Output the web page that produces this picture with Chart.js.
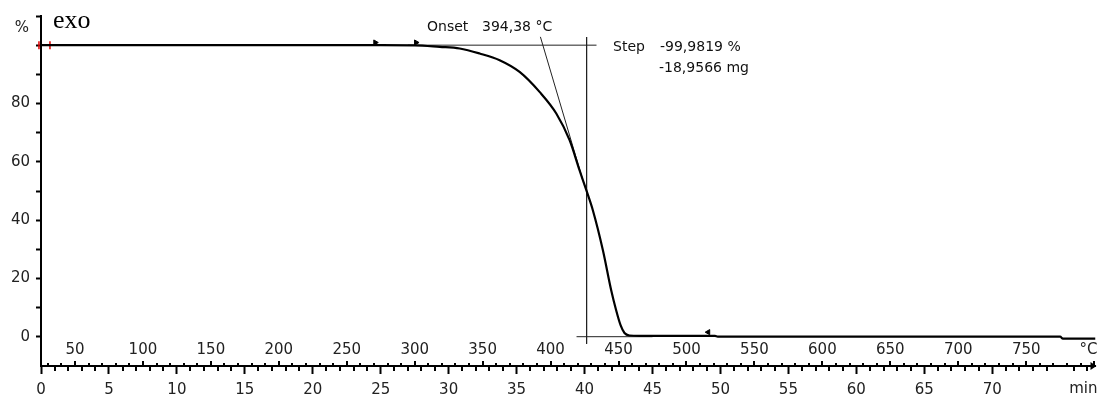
<!DOCTYPE html>
<html>
<head>
<meta charset="utf-8">
<script src="https://cdn.jsdelivr.net/npm/chart.js@4.4.1/dist/chart.umd.min.js"></script>
<style>
  html, body { margin: 0; padding: 0; background: #ffffff; }
  #wrap { width: 1101px; height: 401px; }
</style>
</head>
<body>
<div id="wrap"><canvas id="c" width="1101" height="401"></canvas></div>
<script>
// ---- data ----
const timeMin = [0, 10, 20, 25, 27.5, 29.34, 30.81, 32.28, 33.75, 35.22, 36.69, 37.92, 38.90, 39.63, 40.13, 40.61, 41.35, 41.96, 42.32, 42.65, 42.94, 43.31, 44.04, 49.6, 49.8, 60, 75.0, 75.2, 77.6];
const massPct = [100, 100, 100, 100, 99.95, 99.42, 98.87, 97.15, 94.86, 90.84, 83.98, 76.58, 67.42, 57.13, 50.27, 43.42, 29.70, 15.98, 9.2, 4.0, 1.3, 0.45, 0.3, 0.3, 0.05, 0.05, 0.05, -0.6, -0.6];

const baseTopT = [27, 40.88];     const baseTopV = [100, 100];
const tangentT = [36.75, 39.85];  const tangentV = [102.85, 54.1];
const stepLineT = [40.15, 40.15]; const stepLineV = [102.8, -2.4];
const baseBotT = [39.41, 45];     const baseBotV = [0.05, 0.05];

const markerT = [24.6, 27.6];     const markerV = [100.9, 100.9];
const marker2T = [49.1];          const marker2V = [1.6];
const redT = [-0.15, 0.66];       const redV = [100, 100];

const timeTicks = [0, 5, 10, 15, 20, 25, 30, 35, 40, 45, 50, 55, 60, 65, 70];
const tempTicks = [50, 100, 150, 200, 250, 300, 350, 400, 450, 500, 550, 600, 650, 700, 750];
const yTicks = [0, 10, 20, 30, 40, 50, 60, 70, 80, 90, 100, 110];
const yTickLabels = [0, 20, 40, 60, 80];

const startTemp = 25, heatRate = 10; // °C, °C/min
const onsetLabel = 'Onset', onsetValue = '394,38 °C';
const stepLabel = 'Step', stepValue1 = '-99,9819 %', stepValue2 = '-18,9566 mg';

const pts = (xs, ys) => xs.map((x, i) => ({ x: x, y: ys[i] }));
const FONT = '"DejaVu Sans", Verdana, sans-serif';

const overlay = {
  id: 'overlay',
  afterDraw(chart) {
    const ctx = chart.ctx;
    const xs = chart.scales.x, ys = chart.scales.y;
    const ca = chart.chartArea;
    const b = ca.bottom;
    ctx.save();
    ctx.strokeStyle = '#000';
    ctx.lineWidth = 2;
    // minor time ticks (every minute)
    for (let t = 1; t < xs.max; t++) {
      if (t % 5 === 0) continue;
      const x = Math.round(xs.getPixelForValue(t));
      ctx.beginPath(); ctx.moveTo(x, b - 1); ctx.lineTo(x, b + 5); ctx.stroke();
    }
    // temperature ticks
    for (let T = 30; T <= startTemp + heatRate * xs.max; T += 10) {
      const x = Math.round(xs.getPixelForValue((T - startTemp) / heatRate));
      const len = (T % 50 === 0) ? 5 : 3;
      ctx.beginPath(); ctx.moveTo(x, b + 1); ctx.lineTo(x, b - len); ctx.stroke();
    }
    // arrow at the right end
    ctx.fillStyle = '#000';
    ctx.beginPath();
    ctx.moveTo(ca.right + 1, b);
    ctx.lineTo(ca.right - 5, b - 4);
    ctx.lineTo(ca.right - 5, b + 4);
    ctx.closePath(); ctx.fill();

    // temperature labels
    ctx.font = '15px ' + FONT;
    ctx.fillStyle = '#222';
    ctx.textAlign = 'center';
    ctx.textBaseline = 'middle';
    tempTicks.forEach(T => {
      const x = xs.getPixelForValue((T - startTemp) / heatRate);
      ctx.fillText(String(T), x, b - 16);
    });
    ctx.textAlign = 'right';
    ctx.fillText('°C', ca.right + 2, b - 16);
    ctx.fillText('min', ca.right + 2, b + 23);
    // unit on y axis
    ctx.textAlign = 'center';
    ctx.fillText('%', 22, ys.getPixelForValue(106));

    // exo
    ctx.font = '26px "Liberation Serif", "Times New Roman", serif';
    ctx.fillStyle = '#000';
    ctx.textAlign = 'left';
    ctx.textBaseline = 'alphabetic';
    ctx.fillText('exo', 53, 28);

    // evaluation texts
    ctx.font = '14px ' + FONT;
    ctx.fillStyle = '#111';
    ctx.textBaseline = 'middle';
    ctx.textAlign = 'left';
    ctx.fillText(onsetLabel, 427, 27);
    ctx.fillText(onsetValue, 482, 27);
    ctx.fillText(stepLabel, 613, 47);
    ctx.fillText(stepValue1, 660, 47);
    ctx.fillText(stepValue2, 659, 68);
    ctx.restore();
  }
};

const thin = { borderColor: '#222', borderWidth: 1, pointRadius: 0, showLine: true, fill: false };

new Chart(document.getElementById('c'), {
  type: 'scatter',
  data: {
    datasets: [
      { data: pts(timeMin, massPct), borderColor: '#000', borderWidth: 2.2, pointRadius: 0, showLine: true, cubicInterpolationMode: 'monotone', fill: false },
      Object.assign({ data: pts(baseTopT, baseTopV) }, thin),
      Object.assign({ data: pts(tangentT, tangentV) }, thin),
      Object.assign({ data: pts(stepLineT, stepLineV) }, thin),
      Object.assign({ data: pts(baseBotT, baseBotV) }, thin),
      { data: pts(markerT, markerV), pointStyle: 'triangle', rotation: 90, pointRadius: 3, backgroundColor: '#000', borderColor: '#000', borderWidth: 1, showLine: false },
      { data: pts(marker2T, marker2V), pointStyle: 'triangle', rotation: -90, pointRadius: 3, backgroundColor: '#000', borderColor: '#000', borderWidth: 1, showLine: false },
      { data: pts(redT, redV), pointStyle: 'line', rotation: 90, pointRadius: 4, borderColor: '#e00000', borderWidth: 1.5, showLine: false, clip: false }
    ]
  },
  options: {
    responsive: false,
    animation: false,
    devicePixelRatio: 1,
    layout: { padding: { top: 16, right: 4, left: 0, bottom: 0 } },
    plugins: { legend: { display: false }, tooltip: { enabled: false } },
    scales: {
      x: {
        type: 'linear', min: 0, max: 77.6,
        afterFit: s => { s.height = 35; },
        afterBuildTicks: s => { s.ticks = timeTicks.map(v => ({ value: v })); },
        ticks: { font: { family: FONT, size: 15 }, color: '#222', padding: 7, maxRotation: 0, autoSkip: false },
        grid: { drawOnChartArea: false, drawTicks: true, tickLength: 8, tickWidth: 2, tickColor: '#000' },
        border: { display: true, color: '#000', width: 2 }
      },
      y: {
        type: 'linear', min: -10, max: 110,
        afterFit: s => { s.width = 41; },
        afterBuildTicks: s => { s.ticks = yTicks.map(v => ({ value: v })); },
        ticks: {
          font: { family: FONT, size: 15 }, color: '#222', padding: 6, autoSkip: false,
          callback: v => yTickLabels.includes(v) ? String(v) : ''
        },
        grid: { drawOnChartArea: false, drawTicks: true, tickLength: 5, tickWidth: 2, tickColor: '#000' },
        border: { display: true, color: '#000', width: 2 }
      }
    }
  },
  plugins: [overlay]
});
</script>
</body>
</html>
